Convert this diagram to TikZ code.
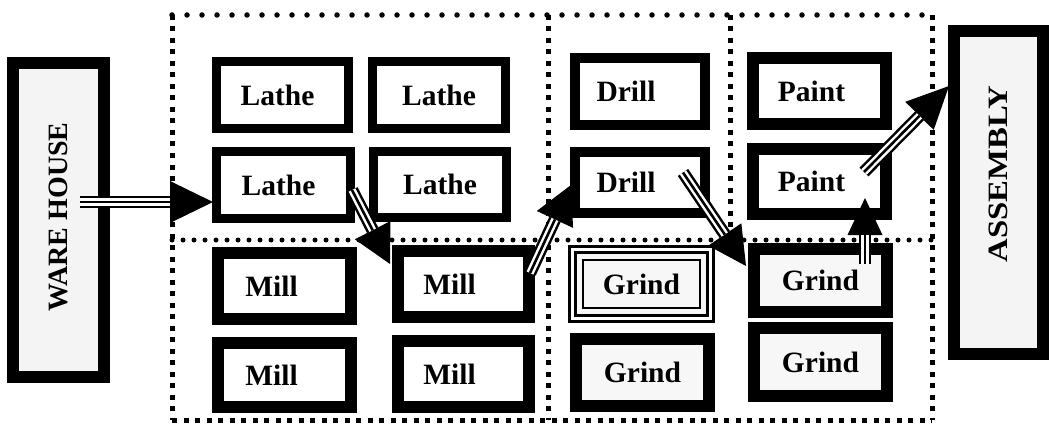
\documentclass[tikz,border=0pt]{standalone}
\usepackage{fontspec}
\setmainfont{Liberation Serif}
\usetikzlibrary{arrows.meta,calc}
\newcommand\lblfont{\fontsize{29.5}{30}\selectfont\bfseries}
\newcommand\sidefont{\fontsize{28}{30}\selectfont\bfseries}
\newcommand\shx[2]{\hspace*{#1}#2}
\newcommand\triarrow[4]{%
  \draw[line width=12.5pt, -{Triangle[length=#3, width=#4, line width=0pt]}] #1 -- #2;
  \draw[line width=7.5pt, white, shorten >=#3] #1 -- #2;
  \draw[line width=2.6pt, shorten >=#3] #1 -- #2;
}
\tikzset{
  mbox/.style={draw, fill=white, inner sep=0pt, font=\lblfont},
  gbox/.style={draw, fill=gray!6, inner sep=0pt, font=\lblfont},
  sidebox/.style={draw, fill=gray!9, line width=12pt, inner sep=0pt, font=\sidefont},
  sqdots/.style={line width=5pt, dash pattern=on 5pt off 6.5pt},
  rddots/.style={line width=5.5pt, line cap=round, dash pattern=on 0pt off 15pt},
  smdots/.style={line width=5pt, line cap=round, dash pattern=on 0pt off 11pt},
}
\begin{document}
\begin{tikzpicture}[x=1pt,y=-1pt]
\useasboundingbox (0,0) rectangle (1049,425);
% dotted cells
\draw[rddots] (172,15) -- (932,15);
\draw[sqdots] (172,15) -- (172,420);
\draw[sqdots] (172,420) -- (932,420);
\draw[sqdots] (932,15) -- (932,420);
\draw[sqdots] (548,15) -- (548,420);
\draw[sqdots] (730,15) -- (730,240);
\draw[smdots] (172,240) -- (932,240);
% side boxes
\node[sidebox, rotate=90, minimum width=314pt, minimum height=91pt] (WH) at (58.5,220) {\shx{6pt}{WARE HOUSE}};
\node[sidebox, rotate=90, minimum width=323pt, minimum height=89pt] (AS) at (998.5,192.5) {\shx{37pt}{\scalebox{1.17}[1]{ASSEMBLY}}};
% lathes
\node[mbox, line width=9pt, minimum width=132pt, minimum height=67pt] (L1) at (282.5,95) {\shx{-10pt}{Lathe}};
\node[mbox, line width=9pt, minimum width=133pt, minimum height=67pt] (L2) at (439,95) {Lathe};
\node[mbox, line width=9pt, minimum width=134pt, minimum height=67pt] (L3) at (283.5,185) {\shx{-10pt}{Lathe}};
\node[mbox, line width=9pt, minimum width=133pt, minimum height=66pt] (L4) at (440,184.5) {Lathe};
% mills
\node[mbox, line width=12pt, minimum width=133pt, minimum height=66pt] (M1) at (284.5,286) {\shx{-26pt}{Mill}};
\node[mbox, line width=12pt, minimum width=131pt, minimum height=66pt] (M2) at (463.5,284) {\shx{-28pt}{Mill}};
\node[mbox, line width=12pt, minimum width=133pt, minimum height=64pt] (M3) at (284.5,375) {\shx{-26pt}{Mill}};
\node[mbox, line width=12pt, minimum width=131pt, minimum height=66pt] (M4) at (463.5,374) {\shx{-28pt}{Mill}};
% drills
\node[mbox, line width=10pt, minimum width=130pt, minimum height=67pt] (D1) at (640,91.5) {\shx{-28pt}{Drill}};
\node[mbox, line width=10pt, minimum width=130pt, minimum height=61pt] (D2) at (640,182.5) {\shx{-28pt}{Drill}};
% paints
\node[mbox, line width=12pt, minimum width=133pt, minimum height=66pt] (P1) at (819.5,91) {\shx{-16pt}{Paint}};
\node[mbox, line width=12pt, minimum width=133pt, minimum height=65pt] (P2) at (819.5,181.5) {\shx{-16pt}{Paint}};
% grinds
\node[gbox, line width=3pt, double=white, double distance=3pt, minimum width=138pt, minimum height=69pt] (G1) at (641.5,284) {Grind};
\draw[line width=2.5pt] ($(G1.north west)+(12,12)$) rectangle ($(G1.south east)+(-12,-12)$);
\node[gbox, line width=12pt, minimum width=133pt, minimum height=63pt] (G2) at (820.5,280.5) {Grind};
\node[gbox, line width=12pt, minimum width=133pt, minimum height=67pt] (G3) at (642.5,372.5) {Grind};
\node[gbox, line width=12pt, minimum width=133pt, minimum height=68pt] (G4) at (820.5,362) {Grind};
% connector ends
\coordinate (s1) at ($(WH.center)+(21.5,-18)$);
\coordinate (t1) at ($(L3.west)+(1,17)$);
\coordinate (s2) at ($(L3.south east)+(-3,-33)$);
\coordinate (t2) at ($(M2.north west)+(-2,19)$);
\coordinate (s3) at ($(M2.north east)+(-5,28)$);
\coordinate (t3) at ($(D2.west)+(1,2.5)$);
\coordinate (s4) at ($(D2.east)+(-27,-10)$);
\coordinate (t4) at ($(G2.north west)+(-2,23)$);
\coordinate (s5) at ($(G2.north)+(44.5,21)$);
\coordinate (t5) at ($(P2.south)+(45.5,-22)$);
\coordinate (s6) at ($(P2.east)+(-28,-9.5)$);
\coordinate (t6) at ($(AS.center)+(-49.5,-106.5)$);
% connectors
\triarrow{(s1)}{(t1)}{43pt}{42pt}
\triarrow{(s2)}{(t2)}{38pt}{40pt}
\triarrow{(s3)}{(t3)}{38pt}{40pt}
\triarrow{(s4)}{(t4)}{38pt}{40pt}
\triarrow{(s5)}{(t5)}{37pt}{35pt}
\triarrow{(s6)}{(t6)}{42pt}{40pt}
\end{tikzpicture}
\end{document}
